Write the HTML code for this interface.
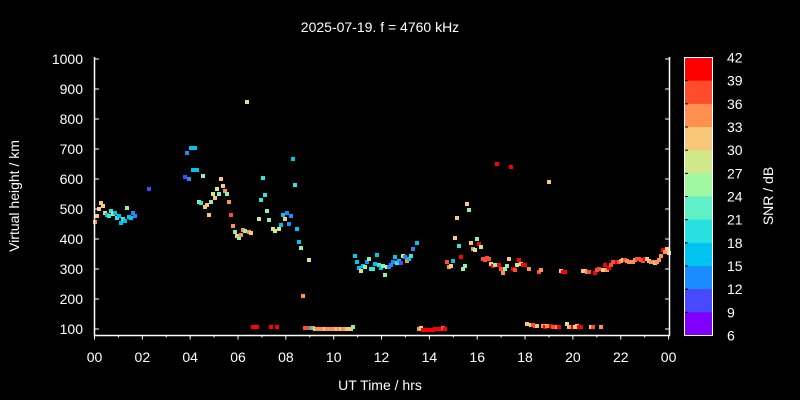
<!DOCTYPE html>
<html><head><meta charset="utf-8">
<style>
html,body{margin:0;padding:0;background:#000;}
svg{display:block;font-family:"Liberation Sans",sans-serif;}
</style></head><body>
<svg id="s" width="800" height="400" viewBox="0 0 800 400" xmlns="http://www.w3.org/2000/svg">
<rect width="800" height="400" fill="#000"/>
<text x="380" y="32" fill="#fff" font-size="14" text-anchor="middle">2025-07-19. f = 4760 kHz</text>
<g id="pts"></g>
<g stroke="#fff" stroke-width="1.5" fill="none">
<path d="M94.5 57 V335.5 H669.5 V57"/>
</g>
<g id="ax" stroke="#fff" stroke-width="1"></g>
<g id="lab" fill="#fff" font-size="14"></g>
<text x="380" y="390" fill="#fff" font-size="14" text-anchor="middle">UT Time / hrs</text>
<text transform="translate(19,196) rotate(-90)" fill="#fff" font-size="14" text-anchor="middle">Virtual height / km</text>
<g id="cb"></g>
<rect x="684.5" y="57.5" width="28" height="278" fill="none" stroke="#fff" stroke-width="1"/>
<text transform="translate(773,196) rotate(-90)" fill="#fff" font-size="14" text-anchor="middle">SNR / dB</text>
</svg>
<script>
var C={p:"#8000ff",bv:"#4848ff",b:"#1a8cff",c:"#00c4f0",a:"#30e8d8",l:"#90f0a8",y:"#d0e888",lo:"#f8c878",o:"#ff9050",or:"#ff4c2c",r:"#ff0000"};
var ns="http://www.w3.org/2000/svg";
function el(t,a,p){var e=document.createElementNS(ns,t);for(var k in a)e.setAttribute(k,a[k]);p.appendChild(e);return e;}
var ax=document.getElementById('ax'),lab=document.getElementById('lab'),cb=document.getElementById('cb'),pts=document.getElementById('pts');
// y ticks
for(var v=100;v<=1000;v+=100){var y=329-(v-100)*0.3;
el('line',{x1:94.5,x2:99,y1:y,y2:y},ax);el('line',{x1:665,x2:669.5,y1:y,y2:y},ax);
var t=el('text',{x:83,y:y+5,'text-anchor':'end'},lab);t.textContent=v;}
// x ticks
for(var h=0;h<=24;h++){var x=94.5+h*23.92;var L=h%2==0?4:2;
el('line',{x1:x,x2:x,y1:335.5,y2:335.5+L},ax);
if(h%2==0){var t=el('text',{x:x,y:362,'text-anchor':'middle'},lab);t.textContent=(h%24<10?'0':'')+(h%24);}}
// colorbar
var cols=[C.r,C.or,C.o,C.lo,C.y,C.l,C.a,C.c,C.b,C.bv,"#6a3cff",C.p];
cols=["#ff0000","#ff4c2c","#ff9050","#f8c878","#d0e888","#a0f8a0","#60f0c8","#28e0e0","#00c4f0","#4848ff","#4848ff","#8000ff"];
cols[9]="#1a8cff";
var bh=278/12;
for(var i=0;i<12;i++){el('rect',{x:684.5,y:57.5+i*bh,width:28,height:bh+0.5,fill:cols[i]},cb);}
for(var i=0;i<=12;i++){var yy=57.5+i*bh;el('line',{x1:684.5,x2:688,y1:yy,y2:yy,stroke:'#000'},cb);
var t=el('text',{x:727,y:yy+5,fill:'#fff','font-size':14},cb);t.textContent=42-3*i;}
var D=[[95,222,'o'],[97,216,'lo'],[99,209,'lo'],[101,203,'lo'],[103,206,'lo'],[105,213,'lo'],[107,215,'c'],[109,216,'a'],[111,211,'a'],[113,214,'l'],[115,213,'c'],[117,218,'a'],[119,216,'c'],[121,223,'c'],[123,219,'a'],[125,221,'c'],[127,208,'l'],[129,217,'c'],[131,218,'c'],[133,213,'b'],[135,216,'b'],[149,189,'bv'],
[185,177,'bv'],[187,153,'b'],[189,179,'b'],[191,148,'c'],[193,170,'c'],[195,148,'c'],[197,170,'c'],[199,202,'l'],[201,203,'a'],[203,176,'l'],[205,207,'lo'],[207,205,'lo'],[209,215,'lo'],[211,202,'l'],[213,194,'y'],[215,198,'lo'],[217,189,'y'],[219,194,'l'],[221,179,'lo'],[223,186,'lo'],[225,191,'o'],[227,194,'l'],[229,202,'o'],[231,215,'or'],[233,226,'o'],[235,232,'l'],[237,236,'lo'],[239,238,'l'],[241,235,'o'],[243,230,'o'],[245,231,'l'],[247,102,'y'],[249,232,'o'],[251,233,'lo'],
[253,327,'r'],[255,327,'r'],[257,327,'r'],[259,219,'y'],[261,200,'a'],[263,178,'a'],[265,195,'a'],[267,211,'l'],[269,220,'l'],[271,327,'r'],[273,229,'y'],[275,231,'y'],[277,327,'r'],[279,229,'y'],[281,225,'c'],[283,215,'c'],[285,219,'lo'],[287,213,'b'],[289,224,'b'],[291,216,'b'],[293,159,'c'],[295,185,'a'],[297,229,'c'],[299,242,'c'],[301,248,'l'],[303,296,'o'],[305,328,'or'],[307,328,'or'],[309,260,'y'],[311,328,'c'],[313,328,'o'],[315,329,'l'],[317,329,'o'],[319,329,'o'],[321,329,'o'],[323,329,'o'],[325,329,'lo'],[327,329,'o'],[329,329,'o'],[331,329,'o'],[333,329,'o'],[335,329,'o'],[337,329,'lo'],[339,329,'o'],[341,329,'lo'],[343,329,'o'],[345,329,'o'],[347,329,'lo'],[349,329,'lo'],[351,329,'lo'],[353,327,'l'],
[355,256,'c'],[357,262,'c'],[359,268,'c'],[361,271,'y'],[363,266,'c'],[365,267,'l'],[367,262,'b'],[369,259,'l'],[371,269,'a'],[373,269,'a'],[375,264,'c'],[377,255,'c'],[379,265,'a'],[381,268,'c'],[383,266,'l'],[385,275,'l'],[387,267,'y'],[389,267,'b'],[391,265,'b'],[393,262,'b'],[395,257,'c'],[397,263,'a'],[399,261,'c'],[401,263,'bv'],[403,256,'y'],[405,257,'b'],[407,261,'o'],[409,259,'c'],[411,256,'a'],[413,249,'b'],[417,243,'c'],
[419,329,'o'],[421,328,'lo'],[423,330,'r'],[425,330,'r'],[427,330,'r'],[429,330,'r'],[431,330,'r'],[433,330,'r'],[435,329,'r'],[437,329,'r'],[439,329,'r'],[441,329,'r'],[443,328,'or'],[445,329,'r'],
[447,262,'or'],[449,267,'o'],[451,266,'lo'],[453,261,'c'],[455,238,'lo'],[457,218,'lo'],[459,246,'a'],[461,257,'r'],[463,269,'l'],[465,266,'l'],[467,204,'lo'],[469,210,'l'],[471,243,'lo'],[473,249,'o'],[475,250,'y'],[477,239,'l'],[479,244,'r'],[481,247,'y'],[483,259,'or'],[485,260,'or'],[487,258,'or'],[489,259,'or'],[491,264,'lo'],[493,266,'r'],[495,265,'l'],[497,164,'r'],[499,265,'r'],[501,269,'or'],[503,273,'o'],[505,269,'l'],[507,266,'l'],[509,259,'lo'],[511,167,'r'],[513,269,'r'],[515,270,'or'],[517,265,'y'],[519,260,'r'],[521,264,'lo'],[523,265,'r'],[525,265,'r'],[527,324,'lo'],[529,269,'o'],[531,325,'lo'],[533,325,'or'],[535,326,'or'],[537,326,'lo'],[539,272,'or'],[541,270,'o'],[543,326,'o'],[545,327,'r'],[547,326,'o'],[549,182,'lo'],[551,326,'r'],[553,327,'or'],[555,327,'or'],[557,327,'o'],[559,327,'r'],[561,271,'lo'],[563,272,'r'],[565,272,'r'],[567,324,'y'],[569,327,'lo'],[571,327,'o'],[573,327,'r'],[575,327,'lo'],[577,326,'lo'],[579,327,'r'],[581,327,'r'],[583,271,'lo'],[585,271,'lo'],[587,272,'o'],[589,272,'or'],[591,327,'lo'],[593,327,'or'],[595,273,'r'],[597,270,'or'],[599,269,'or'],[601,327,'o'],[603,270,'lo'],[605,265,'r'],[607,270,'o'],[609,268,'r'],[611,265,'or'],[613,262,'or'],[615,262,'or'],[617,262,'r'],[619,262,'or'],[621,261,'o'],[623,260,'lo'],[625,260,'or'],[627,261,'o'],[629,262,'o'],[631,262,'o'],[633,262,'o'],[635,260,'o'],[637,259,'or'],[639,259,'or'],[641,260,'or'],[643,261,'or'],[645,259,'r'],[647,259,'lo'],[649,261,'lo'],[651,262,'o'],[653,262,'o'],[655,263,'lo'],[657,262,'o'],[659,260,'o'],[661,256,'o'],[663,250,'r'],[665,252,'o'],[667,249,'lo'],[669,253,'lo']];
D.forEach(function(d){el('rect',{x:d[0]-2,y:d[1]-2,width:4,height:4,fill:C[d[2]]},pts);});
</script>
</body></html>
